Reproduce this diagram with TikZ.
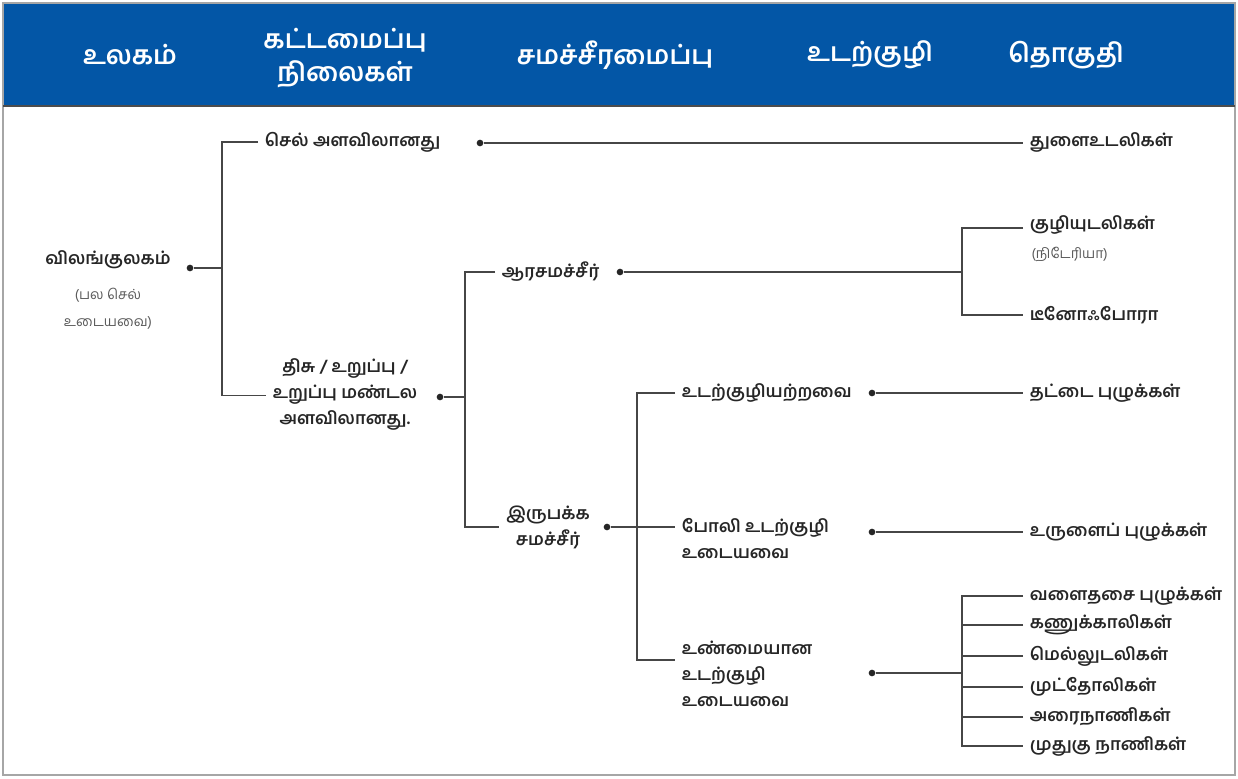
\documentclass[tikz,border=0pt]{standalone}
\usepackage{fontspec}
\newfontfamily\tamil[Script=Tamil]{Hind Madurai}
\definecolor{headblue}{RGB}{3,86,166}
\definecolor{linegray}{RGB}{70,70,70}

\begin{document}
\begin{tikzpicture}[x=0.75pt,y=-0.75pt]
    % styles
    \tikzset{
      frame/.style    = {draw=gray!70, line width=1.5pt},
      headfill/.style = {fill=headblue, draw=none},
      headtext/.style = {text=white, align=center, font=\tamil\bfseries\fontsize{19.5}{25}\selectfont},
      taxon/.style    = {anchor=west, inner sep=5pt, text=black!85, font=\tamil\bfseries\fontsize{13}{19.5}\selectfont},
      taxonc/.style   = {taxon, anchor=center, align=center},
      note/.style     = {inner sep=1pt, text=black!65, font=\tamil\fontsize{10.5}{20}\selectfont},
      branch/.style   = {draw=linegray, line width=1.1pt},
      knot/.style     = {circle, fill=black!85, inner sep=0pt, minimum size=5pt}
    }
    \useasboundingbox (0,0) rectangle (1238,778);

    % Header band:
    \path[headfill] (3,3) rectangle (1235,106);
    \draw[frame] (3,3) rectangle (1235,775);
    \draw[draw=black!70, line width=1.5pt] (3,106) -- (1235,106);
    \node[headtext] (hkingdom) at (130,55) {உலகம்};
    \node[headtext] (hlevel)   at (345,58) {கட்டமைப்பு\\நிலைகள்};
    \node[headtext] (hsym)     at (615,55) {சமச்சீரமைப்பு};
    \node[headtext] (hcoel)    at (870,55) {உடற்குழி};
    \node[headtext] (hphylum)  at (1066,55) {தொகுதி};

    % Kingdom:
    \node[taxonc] (root) at (108,260) {விலங்குலகம்};
    \node[note, align=center] (rootnote) at (108,309) {(பல செல்\\உடையவை)};
    \node[knot] (rootdot) at (190,268) {};
    \coordinate (fork1) at (222,268);

    % Levels of organisation:
    \node[taxon] (cell) at (258,142) {செல் அளவிலானது};
    \node[knot] (celldot) at (480,143) {};
    \node[taxonc] (tissue) at (345,394) {திசு / உறுப்பு /\\உறுப்பு மண்டல\\அளவிலானது.};
    \node[knot] (tissuedot) at (440,397) {};
    \coordinate (fork2) at (465,397);

    % Symmetry:
    \node[taxon] (radial) at (495,272) {ஆரசமச்சீர்};
    \node[knot] (radialdot) at (620,272) {};
    \coordinate (fork3) at (962,272);
    \node[taxonc] (bilateral) at (548,527) {இருபக்க\\சமச்சீர்};
    \node[knot] (bilateraldot) at (607,527) {};
    \coordinate (fork4) at (637,527);

    % Body cavity:
    \node[taxon] (acoel) at (675,393) {உடற்குழியற்றவை};
    \node[knot] (acoeldot) at (872,393) {};
    \node[taxon, align=left, anchor=north west] (pseudo) at (675,511) {போலி உடற்குழி\\உடையவை};
    \node[knot] (pseudodot) at (872,532) {};
    \node[taxon, align=left, anchor=north west] (eucoel) at (675,634) {உண்மையான\\உடற்குழி\\உடையவை};
    \node[knot] (eucoeldot) at (872,673) {};
    \coordinate (fork5) at (962,673);

    % Phyla:
    \node[taxon] (porifera) at (1023,142) {துளைஉடலிகள்};
    \node[taxon] (cnid) at (1023,225) {குழியுடலிகள்};
    \node[note, anchor=west] (cnidnote) at (1030,254) {(நிடேரியா)};
    \node[taxon] (cteno) at (1023,315) {டீனோஃபோரா};
    \node[taxon] (flat) at (1023,393) {தட்டை புழுக்கள்};
    \node[taxon] (round) at (1023,532) {உருளைப் புழுக்கள்};
    \foreach \nm/\yy/\txt in {annelid/596/வளைதசை புழுக்கள், arthro/625/கணுக்காலிகள்,
        mollusc/656/மெல்லுடலிகள், echino/687/முட்தோலிகள், hemi/717/அரைநாணிகள்,
        chord/746/முதுகு நாணிகள்}
      \node[taxon] (\nm) at (1023,\yy) {\txt};

    % Connectors:
    \draw[branch] (rootdot) -- (fork1);
    \draw[branch] (cell.west) -| (fork1) |- ([yshift=-1pt]tissue.west);
    \draw[branch] (celldot) -- (porifera.west |- celldot);
    \draw[branch] (tissuedot) -- (fork2);
    \draw[branch] (radial.west) -| (fork2) |- (bilateral.west);
    \draw[branch] (radialdot) -- (fork3);
    \draw[branch] (cnid.west |- 0,228) -| (fork3) |- (cteno.west);
    \draw[branch] (bilateraldot) -- (pseudo.west |- bilateraldot);
    \draw[branch] (acoel.west) -| (fork4) |- (eucoel.west |- 0,660);
    \draw[branch] (acoeldot) -- (flat.west);
    \draw[branch] (pseudodot) -- (round.west);
    \draw[branch] (eucoeldot) -- (fork5);
    \draw[branch] (annelid.west) -| (fork5) |- (chord.west);
    \foreach \nm in {arthro, mollusc, echino, hemi}
      \draw[branch] (\nm.west) -- (fork5 |- \nm.west);
\end{tikzpicture}
\end{document}
